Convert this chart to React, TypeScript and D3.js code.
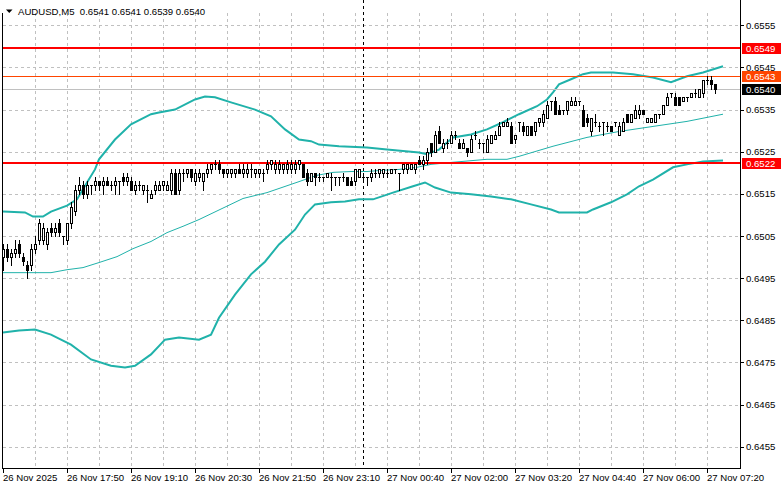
import React from 'react';
import * as d3 from 'd3';

const W = 781;
const H = 489;

// OHLC (M5 bars), 4-digit prices
const opens = [
  0.6500,0.6502,0.6500,0.6501,0.6503,0.6500,0.6498,0.6498,0.6502,0.6504,0.6504,0.6503,0.6507,0.6506,0.6508,0.6505,0.6504,0.6508,0.6511,0.6516,
  0.6517,0.6515,0.6517,0.6517,0.6518,0.6517,0.6518,0.6517,0.6517,0.6518,0.6519,0.6518,0.6518,0.6516,0.6517,0.6516,0.6516,0.6514,0.6516,0.6516,
  0.6517,0.6516,0.6516,0.6520,0.6516,0.6520,0.6520,0.6521,0.6518,0.6519,0.6518,0.6520,0.6521,0.6522,0.6522,0.6521,0.6520,0.6520,0.6520,0.6521,
  0.6520,0.6520,0.6521,0.6520,0.6520,0.6520,0.6521,0.6522,0.6521,0.6521,0.6521,0.6521,0.6521,0.6521,0.6522,0.6522,0.6520,0.6518,0.6520,0.6519,
  0.6519,0.6519,0.6519,0.6519,0.6519,0.6519,0.6519,0.6518,0.6518,0.6519,0.6519,0.6519,0.6519,0.6520,0.6520,0.6520,0.6520,0.6520,0.6521,0.6520,
  0.6521,0.6521,0.6521,0.6521,0.6523,0.6522,0.6523,0.6527,0.6525,0.6530,0.6526,0.6527,0.6527,0.6529,0.6527,0.6526,0.6526,0.6525,0.6529,0.6527,
  0.6527,0.6525,0.6527,0.6528,0.6529,0.6531,0.6531,0.6531,0.6528,0.6532,0.6531,0.6529,0.6531,0.6530,0.6532,0.6532,0.6533,0.6537,0.6537,0.6535,
  0.6535,0.6535,0.6536,0.6536,0.6537,0.6535,0.6533,0.6530,0.6532,0.6531,0.6532,0.6531,0.6531,0.6532,0.6529,0.6530,0.6534,0.6532,0.6533,0.6534,
  0.6535,0.6532,0.6532,0.6532,0.6534,0.6534,0.6536,0.6539,0.6538,0.6538,0.6537,0.6538,0.6538,0.6539,0.6538,0.6539,0.6542,0.6542,0.6541,
];
const highs = [
  0.6503,0.6503,0.6502,0.6504,0.6504,0.6501,0.6499,0.6503,0.6505,0.6509,0.6508,0.6507,0.6508,0.6508,0.6509,0.6505,0.6508,0.6513,0.6517,0.6519,
  0.6518,0.6518,0.6517,0.6519,0.6518,0.6519,0.6519,0.6518,0.6519,0.6518,0.6520,0.6520,0.6519,0.6518,0.6518,0.6517,0.6517,0.6516,0.6518,0.6518,
  0.6518,0.6518,0.6521,0.6521,0.6521,0.6521,0.6521,0.6521,0.6521,0.6521,0.6520,0.6522,0.6522,0.6523,0.6523,0.6521,0.6521,0.6521,0.6521,0.6522,
  0.6522,0.6522,0.6522,0.6521,0.6521,0.6521,0.6523,0.6523,0.6523,0.6523,0.6522,0.6523,0.6523,0.6523,0.6523,0.6522,0.6521,0.6520,0.6520,0.6520,
  0.6519,0.6520,0.6520,0.6519,0.6519,0.6520,0.6519,0.6519,0.6521,0.6521,0.6520,0.6519,0.6521,0.6521,0.6521,0.6521,0.6521,0.6521,0.6521,0.6520,
  0.6522,0.6522,0.6522,0.6522,0.6524,0.6524,0.6526,0.6527,0.6530,0.6531,0.6528,0.6528,0.6530,0.6530,0.6528,0.6528,0.6526,0.6529,0.6530,0.6528,
  0.6527,0.6529,0.6529,0.6530,0.6532,0.6532,0.6533,0.6532,0.6529,0.6532,0.6532,0.6531,0.6531,0.6532,0.6533,0.6535,0.6537,0.6537,0.6538,0.6536,
  0.6535,0.6537,0.6538,0.6538,0.6537,0.6536,0.6534,0.6533,0.6534,0.6532,0.6532,0.6532,0.6531,0.6532,0.6532,0.6533,0.6534,0.6534,0.6536,0.6536,
  0.6535,0.6533,0.6533,0.6534,0.6534,0.6536,0.6539,0.6539,0.6539,0.6538,0.6538,0.6538,0.6539,0.6540,0.6540,0.6542,0.6543,0.6543,0.6541,
];
const lows = [
  0.6497,0.6499,0.6498,0.6500,0.6500,0.6498,0.6495,0.6497,0.6501,0.6503,0.6503,0.6502,0.6505,0.6505,0.6505,0.6503,0.6503,0.6507,0.6510,0.6515,
  0.6514,0.6514,0.6515,0.6516,0.6516,0.6515,0.6517,0.6516,0.6515,0.6515,0.6517,0.6517,0.6516,0.6515,0.6516,0.6515,0.6513,0.6514,0.6515,0.6516,
  0.6516,0.6516,0.6515,0.6515,0.6515,0.6518,0.6519,0.6518,0.6517,0.6518,0.6516,0.6519,0.6520,0.6521,0.6520,0.6519,0.6519,0.6519,0.6519,0.6520,
  0.6519,0.6519,0.6519,0.6519,0.6519,0.6518,0.6520,0.6521,0.6520,0.6520,0.6520,0.6520,0.6520,0.6520,0.6521,0.6519,0.6517,0.6518,0.6517,0.6518,
  0.6518,0.6519,0.6516,0.6517,0.6517,0.6518,0.6517,0.6517,0.6517,0.6519,0.6518,0.6517,0.6518,0.6519,0.6519,0.6519,0.6519,0.6520,0.6520,0.6516,
  0.6520,0.6520,0.6521,0.6520,0.6522,0.6521,0.6522,0.6524,0.6525,0.6527,0.6525,0.6526,0.6527,0.6528,0.6526,0.6526,0.6524,0.6525,0.6528,0.6526,
  0.6525,0.6525,0.6527,0.6528,0.6529,0.6531,0.6531,0.6527,0.6527,0.6530,0.6529,0.6529,0.6529,0.6529,0.6531,0.6531,0.6533,0.6535,0.6534,0.6534,
  0.6534,0.6534,0.6536,0.6536,0.6536,0.6531,0.6531,0.6529,0.6531,0.6530,0.6529,0.6530,0.6530,0.6531,0.6529,0.6530,0.6532,0.6532,0.6533,0.6533,
  0.6534,0.6532,0.6532,0.6532,0.6533,0.6534,0.6536,0.6538,0.6536,0.6536,0.6537,0.6537,0.6538,0.6538,0.6538,0.6538,0.6541,0.6540,0.6539,
];
const closes = [
  0.6502,0.6500,0.6501,0.6502,0.6501,0.6499,0.6497,0.6502,0.6503,0.6508,0.6507,0.6506,0.6506,0.6507,0.6506,0.6505,0.6508,0.6512,0.6516,0.6517,
  0.6515,0.6517,0.6517,0.6518,0.6517,0.6518,0.6517,0.6517,0.6518,0.6518,0.6518,0.6519,0.6516,0.6517,0.6517,0.6517,0.6516,0.6515,0.6517,0.6517,
  0.6518,0.6517,0.6520,0.6515,0.6520,0.6520,0.6521,0.6519,0.6520,0.6520,0.6520,0.6521,0.6522,0.6522,0.6521,0.6520,0.6521,0.6521,0.6521,0.6520,
  0.6521,0.6521,0.6521,0.6521,0.6521,0.6520,0.6522,0.6523,0.6522,0.6522,0.6522,0.6522,0.6522,0.6522,0.6523,0.6519,0.6518,0.6520,0.6519,0.6519,
  0.6519,0.6520,0.6519,0.6519,0.6519,0.6519,0.6517,0.6517,0.6521,0.6521,0.6519,0.6519,0.6520,0.6520,0.6521,0.6521,0.6520,0.6521,0.6521,0.6520,
  0.6522,0.6522,0.6522,0.6522,0.6522,0.6523,0.6525,0.6525,0.6529,0.6527,0.6527,0.6527,0.6529,0.6529,0.6526,0.6527,0.6525,0.6528,0.6529,0.6527,
  0.6527,0.6528,0.6529,0.6529,0.6531,0.6532,0.6532,0.6527,0.6529,0.6532,0.6530,0.6531,0.6529,0.6532,0.6533,0.6534,0.6536,0.6537,0.6534,0.6534,
  0.6535,0.6537,0.6537,0.6537,0.6537,0.6531,0.6532,0.6533,0.6532,0.6531,0.6532,0.6531,0.6530,0.6532,0.6531,0.6532,0.6532,0.6534,0.6535,0.6535,
  0.6534,0.6533,0.6533,0.6534,0.6534,0.6536,0.6538,0.6539,0.6536,0.6536,0.6538,0.6538,0.6539,0.6539,0.6540,0.6542,0.6542,0.6541,0.6540,
];

// Bollinger-style bands: [bar index, price]
const upperBand: [number, number][] = [
  [0,0.65108],[5.5,0.65106],[7.5,0.65096],[10,0.65096],[12,0.65108],[16,0.65122],[18.5,0.65137],[21,0.65177],[23,0.65208],[24,0.65232],
  [28,0.65279],[32,0.65315],[37,0.65339],[39,0.65343],[43,0.65350],[48,0.65374],[50.5,0.65381],[53,0.65379],[57,0.65367],[63,0.65350],
  [67,0.65334],[70.5,0.65303],[74,0.65279],[77,0.65275],[79,0.65267],[84,0.65263],[91,0.65260],[96,0.65255],[104,0.65248],[106,0.65244],
  [107,0.65248],[109,0.65255],[111,0.65272],[112.5,0.65284],[117,0.65291],[121,0.65303],[125,0.65320],[129,0.65339],[133.5,0.65358],
  [136,0.65374],[137.5,0.65391],[139,0.65410],[142,0.65422],[145,0.65434],[147,0.65438],[152.5,0.65438],[157.5,0.65434],[162.5,0.65426],
  [167,0.65415],[171,0.65429],[175,0.65438],[180,0.65453],
];
const middleBand: [number, number][] = [
  [0,0.64963],[12,0.64963],[16,0.64970],[20,0.64975],[24,0.64987],[28.5,0.65001],[32.5,0.65020],[37,0.65037],[41,0.65058],[45,0.65073],
  [49,0.65089],[60,0.65139],[66,0.65153],[74,0.65179],[78.5,0.65194],[82.5,0.65201],[87,0.65203],[91,0.65203],[95,0.65206],[99,0.65208],
  [103.5,0.65213],[107,0.65220],[112.5,0.65225],[121,0.65232],[126,0.65232],[129,0.65239],[137.5,0.65263],[146,0.65284],[154,0.65298],
  [162.5,0.65310],[171,0.65322],[180,0.65339],
];
const lowerBand: [number, number][] = [
  [0,0.64821],[4,0.64826],[8,0.64828],[12,0.64816],[17,0.64792],[22,0.64757],[27,0.64742],[30.5,0.64738],[33,0.64742],[37,0.64769],
  [40.5,0.64804],[44,0.64809],[49,0.64804],[52,0.64816],[54,0.64856],[58,0.64911],[62,0.64959],[65.5,0.64989],[69,0.65030],[73,0.65065],
  [75.5,0.65101],[78,0.65125],[82,0.65130],[85.5,0.65132],[89,0.65137],[92.5,0.65137],[97.5,0.65153],[102.5,0.65168],[105.5,0.65177],
  [108,0.65165],[112,0.65153],[117,0.65149],[122,0.65144],[127,0.65137],[132,0.65125],[137,0.65113],[139,0.65106],[146,0.65106],
  [147.5,0.65113],[152,0.65130],[156,0.65149],[159,0.65168],[162.5,0.65184],[167.5,0.65213],[171,0.65220],[175,0.65227],[180,0.65229],
];

const timeTickBars = [0, 16, 32, 48, 64, 80, 96, 112, 128, 144, 160, 176];
const timeTickLabels = [
  '26 Nov 2025', '26 Nov 17:50', '26 Nov 19:10', '26 Nov 20:30', '26 Nov 21:50', '26 Nov 23:10',
  '27 Nov 00:40', '27 Nov 02:00', '27 Nov 03:20', '27 Nov 04:40', '27 Nov 06:00', '27 Nov 07:20',
];
const priceTicks = [0.6555, 0.6545, 0.6535, 0.6525, 0.6515, 0.6505, 0.6495, 0.6485, 0.6475, 0.6465, 0.6455];
const priceTickLabels = ['0.6555', '0.6545', '0.6535', '0.6525', '0.6515', '0.6505', '0.6495', '0.6485', '0.6475', '0.6465', '0.6455'];

const levelValues = [0.65496, 0.6543, 0.6540, 0.65223];
const levelLabels = ['0.6549', '0.6543', '0.6540', '0.6522'];
const levelColors = ['#ff0000', '#ff4500', '#c0c0c0', '#ff0000'];
const levelBoxColors = ['#ff0000', '#ff4500', '#000000', '#ff0000'];
const levelWidths = [2, 1, 1, 2];

const daySeparatorBar = 90;
const titleText = 'AUDUSD,M5  0.6541 0.6541 0.6539 0.6540';

const FONT = '"Liberation Sans", Arial, sans-serif';

export default function App() {
  const left = 3;
  const right = 740;
  const bottom = 468;
  const x = d3.scaleLinear().domain([0, 178]).range([3, 715]);
  const y = d3.scaleLinear().domain([0.6455, 0.6555]).range([446.7, 25.3]);

  const line = d3
    .line<[number, number]>()
    .x((d) => x(d[0]))
    .y((d) => y(d[1]));

  const gridXs: number[] = [];
  for (let b = 8; x(b) < right - 2; b += 8) gridXs.push(Math.round(x(b)) + 0.5);

  return (
    <svg
      width={W}
      height={H}
      style={{ position: 'absolute', left: 0, top: 0, background: '#fff' }}
      fontFamily={FONT}
    >
      <rect x={0} y={0} width={W} height={H} fill="#fff" />
      {/* grid */}
      <g stroke="#c0c0c0" strokeWidth={1} strokeDasharray="3,3" shapeRendering="crispEdges">
        {priceTicks.map((p, i) => (
          <line key={'h' + i} x1={left} x2={right} y1={Math.round(y(p)) + 0.5} y2={Math.round(y(p)) + 0.5} />
        ))}
        {gridXs.map((gx, i) => (
          <line key={'v' + i} x1={gx} x2={gx} y1={13} y2={bottom} />
        ))}
      </g>
      {/* day separator */}
      <line
        x1={Math.round(x(daySeparatorBar)) + 0.5}
        x2={Math.round(x(daySeparatorBar)) + 0.5}
        y1={0}
        y2={bottom}
        stroke="#000"
        strokeDasharray="3,3"
        shapeRendering="crispEdges"
      />
      {/* bands */}
      <path d={line(middleBand) || ''} fill="none" stroke="#20b2aa" strokeWidth={1} />
      <path d={line(upperBand) || ''} fill="none" stroke="#20b2aa" strokeWidth={2} />
      <path d={line(lowerBand) || ''} fill="none" stroke="#20b2aa" strokeWidth={2} />
      {/* horizontal level lines */}
      {levelValues.map((v, i) => (
        <line
          key={'l' + i}
          x1={left}
          x2={right}
          y1={levelWidths[i] === 2 ? Math.round(y(v)) : Math.round(y(v)) + 0.5}
          y2={levelWidths[i] === 2 ? Math.round(y(v)) : Math.round(y(v)) + 0.5}
          stroke={levelColors[i]}
          strokeWidth={levelWidths[i]}
          shapeRendering="crispEdges"
        />
      ))}
      {/* candles */}
      <g shapeRendering="crispEdges">
        {opens.map((o, i) => {
          const c = closes[i];
          const cx = Math.round(x(i));
          const yh = Math.round(y(highs[i]));
          const yl = Math.round(y(lows[i]));
          const top = Math.round(y(Math.max(o, c)));
          const bot = Math.round(y(Math.min(o, c)));
          return (
            <g key={'c' + i}>
              <line x1={cx + 0.5} x2={cx + 0.5} y1={yh} y2={yl + 1} stroke="#000" />
              {c > o ? (
                <rect x={cx - 0.5} y={top + 0.5} width={2} height={bot - top} fill="#fff" stroke="#000" />
              ) : c < o ? (
                <rect x={cx - 1} y={top} width={3} height={bot - top + 1} fill="#000" />
              ) : (
                <line x1={cx - 1} x2={cx + 2} y1={top + 0.5} y2={top + 0.5} stroke="#000" />
              )}
            </g>
          );
        })}
      </g>
      {/* frame */}
      <g stroke="#000" shapeRendering="crispEdges">
        <line x1={left - 0.5} x2={left - 0.5} y1={13} y2={bottom + 0.5} />
        <line x1={right + 0.5} x2={right + 0.5} y1={0} y2={bottom + 0.5} />
        <line x1={left - 1} x2={right + 1} y1={bottom + 0.5} y2={bottom + 0.5} />
        {priceTicks.map((p, i) => (
          <line key={'pt' + i} x1={right} x2={right + 4} y1={Math.round(y(p)) + 0.5} y2={Math.round(y(p)) + 0.5} />
        ))}
        {timeTickBars.map((b, i) => (
          <line key={'tt' + i} x1={Math.round(x(b)) + 0.5} x2={Math.round(x(b)) + 0.5} y1={bottom} y2={bottom + 5} />
        ))}
      </g>
      {/* price labels */}
      <g fontSize={9.6} fill="#000">
        {priceTicks.map((p, i) => (
          <text key={'pl' + i} x={746} y={y(p) + 3.5}>
            {priceTickLabels[i]}
          </text>
        ))}
      </g>
      {/* level boxes */}
      {levelValues.map((v, i) => (
        <g key={'lb' + i}>
          <rect x={742} y={Math.round(y(v)) - 5} width={39} height={11} fill={levelBoxColors[i]} />
          <text x={746} y={Math.round(y(v)) + 3.5} fontSize={9.6} fill="#fff">
            {levelLabels[i]}
          </text>
        </g>
      ))}
      {/* time labels */}
      <g fontSize={9.6} fill="#000">
        {timeTickBars.map((b, i) => (
          <text key={'tl' + i} x={Math.round(x(b))} y={481}>
            {timeTickLabels[i]}
          </text>
        ))}
      </g>
      {/* title */}
      <path d="M6,9.5 L12.5,9.5 L9.25,13 Z" fill="#000" />
      <text x={18} y={14.5} fontSize={9.6} fill="#000" style={{ whiteSpace: 'pre' }}>
        {titleText}
      </text>
    </svg>
  );
}
